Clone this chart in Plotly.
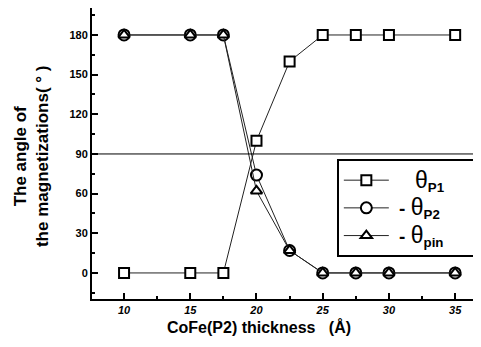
import plotly.graph_objects as go

thickness = [10, 15, 17.5, 20, 22.5, 25, 27.5, 30, 35]
theta_p1 = [0, 0, 0, 100, 160, 180, 180, 180, 180]
neg_theta_p2 = [180, 180, 180, 74, 17, 0, 0, 0, 0]
neg_theta_pin = [180, 180, 180, 62, 17, 0, 0, 0, 0]

x_ticks = [10, 15, 20, 25, 30, 35]
y_ticks = [0, 30, 60, 90, 120, 150, 180]

NB = "\u00a0"
TH = '<span style="font-size:23px">θ</span>'
fig = go.Figure()
fig.add_trace(go.Scatter(x=thickness, y=theta_p1, mode="lines+markers",
                         name=NB * 4 + TH + "<sub><b>P1</b></sub>" + NB * 5,
                         line=dict(color="#222", width=1),
                         marker=dict(symbol="square", size=10, color="white",
                                     line=dict(color="black", width=2))))
fig.add_trace(go.Scatter(x=thickness, y=neg_theta_p2, mode="lines+markers",
                         name=NB + "<b>-</b> " + TH + "<sub><b>P2</b></sub>",
                         line=dict(color="#222", width=1),
                         marker=dict(symbol="circle", size=11, color="white",
                                     line=dict(color="black", width=2))))
fig.add_trace(go.Scatter(x=thickness, y=neg_theta_pin, mode="lines+markers",
                         name=NB + "<b>-</b> " + TH + "<sub><b>pin</b></sub>",
                         line=dict(color="#222", width=1),
                         marker=dict(symbol="triangle-up", size=10, color="white",
                                     line=dict(color="black", width=2))))

fig.add_shape(type="line", xref="paper", yref="y", x0=0, x1=1, y0=90, y1=90,
              line=dict(color="black", width=1))

fig.add_annotation(text="<b>The angle of<br>the magnetizations( ° )</b>",
                   xref="paper", yref="paper", x=-0.156, y=0.49,
                   xanchor="center", yanchor="middle", textangle=-90,
                   showarrow=False, font=dict(size=17, color="black"))
fig.add_annotation(text="<b>CoFe(P2) thickness   (Å)</b>",
                   xref="paper", yref="paper", x=0.432, y=-0.096,
                   xanchor="center", yanchor="middle",
                   showarrow=False, font=dict(size=16, color="black"))

fig.update_layout(
    width=473, height=339,
    margin=dict(l=84, r=2, t=0, b=48, pad=0),
    paper_bgcolor="white", plot_bgcolor="white",
    font=dict(family="Liberation Sans, Arial", color="black"),
    showlegend=True,
    legend=dict(x=0.997, y=0.48, xanchor="right", yanchor="top",
                bgcolor="white", bordercolor="black", borderwidth=2,
                font=dict(size=19, color="black"), itemwidth=45,
                tracegroupgap=0),
    xaxis=dict(range=[7.58, 36.8], tickvals=x_ticks,
               ticktext=[f"<b><i>{v}</i></b>" for v in x_ticks],
               ticks="inside", ticklen=6, tickwidth=2, tickcolor="black",
               minor=dict(dtick=2.5, tick0=0, ticks="inside", ticklen=3, tickcolor="black", tickwidth=1.5),
               showline=True, linewidth=2, linecolor="black", mirror=True,
               showgrid=False, zeroline=False, automargin=False,
               tickfont=dict(size=11)),
    yaxis=dict(range=[-19.7, 200.4], tickvals=y_ticks,
               ticktext=[f"<b>{v}</b>" for v in y_ticks],
               ticks="inside", ticklen=6, tickwidth=2, tickcolor="black",
               minor=dict(dtick=15, tick0=0, ticks="inside", ticklen=3, tickcolor="black", tickwidth=1.5),
               showline=True, linewidth=2, linecolor="black", mirror=True,
               showgrid=False, zeroline=False, automargin=False,
               tickfont=dict(size=11)),
)

fig.write_html("out.html")
